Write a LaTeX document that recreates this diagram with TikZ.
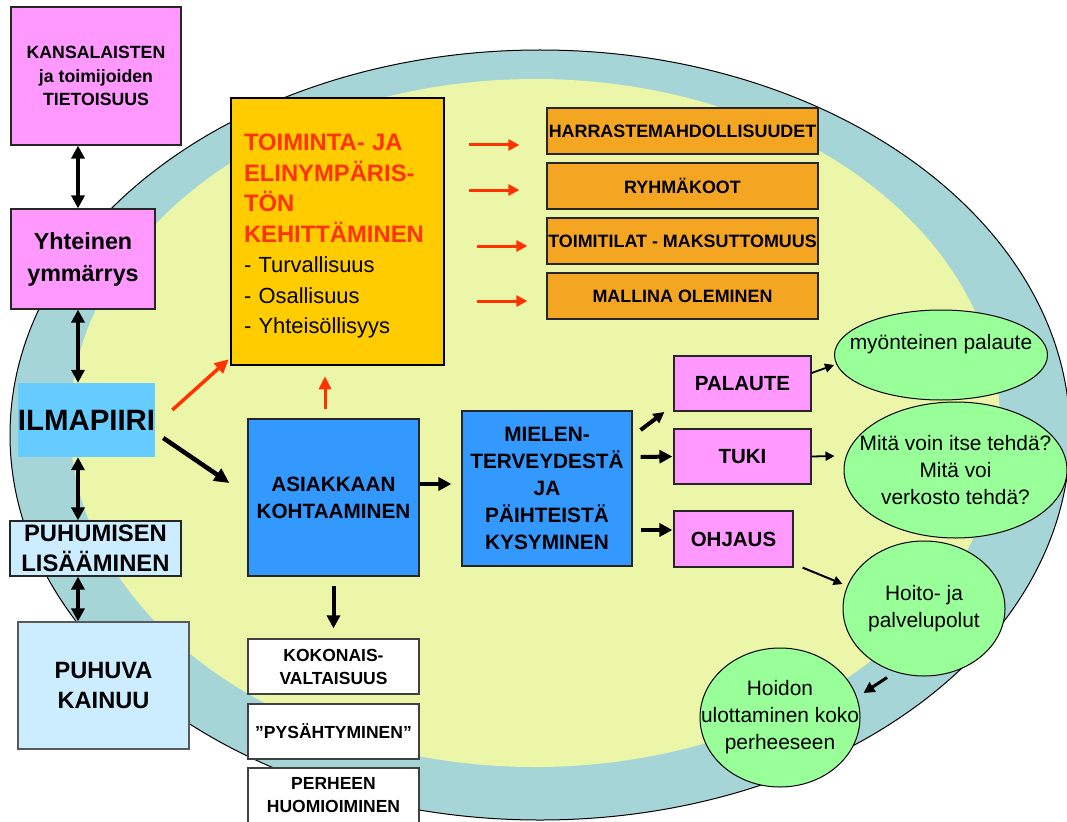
\documentclass[tikz,border=0pt]{standalone}
\usepackage{fontspec}
\setmainfont{Liberation Sans}
\usetikzlibrary{arrows.meta, shapes.geometric}
\definecolor{pinkfill}{HTML}{FF99FF}
\definecolor{skyfill}{HTML}{66CCFF}
\definecolor{paleblue}{HTML}{CCECFF}
\definecolor{goldfill}{HTML}{FFCC00}
\definecolor{redtext}{HTML}{FF3300}
\definecolor{orangefill}{HTML}{F4A623}
\definecolor{bluefill}{HTML}{3399FF}
\definecolor{greenfill}{HTML}{99FF99}
\definecolor{ringfill}{HTML}{A6D5D8}
\definecolor{innerfill}{HTML}{ECF6A9}
\newcommand{\fsz}[2]{\fontsize{#1}{#2}\selectfont}
\newcommand{\redhead}[1]{{\color{redtext}\bfseries\fsz{23.8}{30.5}#1}}
\tikzset{
  box/.style={draw=black!85, line width=1.2pt, inner sep=0pt, align=center},
  tagbox/.style={box, fill=orangefill, minimum width=271pt, minimum height=46pt, font=\bfseries\fsz{17.9}{22}},
  whitebox/.style={box, fill=white, draw=black!75, minimum width=171pt, minimum height=55pt, font=\bfseries\fsz{17.5}{23}},
  bigarrow/.style={line width=4pt, -{Triangle[length=13pt,width=13pt]}},
  duoarrow/.style={line width=4pt, {Triangle[length=13pt,width=13pt]}-{Triangle[length=13pt,width=13pt]}},
  redarrow/.style={draw=redtext, line width=3pt, -{Triangle[length=11pt,width=11pt]}},
  thinarrow/.style={line width=1.8pt, -{Triangle[length=9pt,width=9pt]}},
  bubble/.style={ellipse, draw=black, line width=1pt, fill=greenfill, inner xsep=-25pt, inner ysep=0pt, align=center, font=\fsz{20.9}{27}}
}
\begin{document}
\begin{tikzpicture}[x=1pt,y=-1pt]
  \useasboundingbox (0,0) rectangle (1067,821);
  \clip (0,0) rectangle (1067,821);
  \fill[white] (0,0) rectangle (1067,821);
  % ring and inner field
  \filldraw[fill=ringfill, draw=black, line width=1pt] (540,435) ellipse [x radius=530, y radius=385];
  \fill[innerfill] (535,423) ellipse [x radius=465, y radius=344];

  % left column
  \node[box, fill=pinkfill, minimum width=170pt, minimum height=138pt, font=\bfseries\fsz{17.7}{23.5}] (kans) at (96,76) {KANSALAISTEN\\ja toimijoiden\\TIETOISUUS};
  \node[box, fill=pinkfill, minimum width=144pt, minimum height=100pt, font=\bfseries\fsz{23.3}{32}] (yht) at (83,259) {Yhteinen\\ymmärrys};
  \node[fill=skyfill, inner sep=0pt, minimum width=137pt, minimum height=74pt, font=\bfseries\fsz{29.4}{34}] (ilma) at (86.5,420) {ILMAPIIRI};
  \node[box, fill=paleblue, minimum width=171pt, minimum height=55pt, font=\bfseries\fsz{23.8}{30}] (puhu) at (95.5,548.5) {PUHUMISEN\\LISÄÄMINEN};
  \node[box, fill=paleblue, draw=black!65, minimum width=171pt, minimum height=127pt, font=\bfseries\fsz{23.6}{30}] (kainuu) at (103.5,685.5) {PUHUVA\\KAINUU};

  % environment box and its topics
  \node[draw=black, line width=2.5pt, fill=goldfill, text width=187pt, inner xsep=13pt, inner ysep=0pt, minimum height=267pt, align=left, font=\fsz{21.9}{30.5}] (toim) at (337.5,231.5)
    {\rule{0pt}{26pt}\redhead{TOIMINTA- JA}\\\redhead{ELINYMPÄRIS-}\\\redhead{TÖN}\\\redhead{KEHITTÄMINEN}\\- Turvallisuus\\- Osallisuus\\- Yhteisöllisyys};
  \node[tagbox] (harr) at (682.5,131) {HARRASTEMAHDOLLISUUDET};
  \node[tagbox] (ryhm) at (682.5,186) {RYHMÄKOOT};
  \node[tagbox] (tilat) at (682.5,241) {TOIMITILAT - MAKSUTTOMUUS};
  \node[tagbox] (mall) at (682.5,296) {MALLINA OLEMINEN};

  % meeting the client
  \node[box, fill=bluefill, minimum width=171pt, minimum height=157pt, font=\bfseries\fsz{20.7}{27}] (asiak) at (333.5,497.5) {ASIAKKAAN\\KOHTAAMINEN};
  \node[box, fill=bluefill, minimum width=170pt, minimum height=155pt, font=\bfseries\fsz{20.8}{27}] (miel) at (547,488.5) {MIELEN-\\TERVEYDESTÄ\\JA\\PÄIHTEISTÄ\\KYSYMINEN};
  \node[whitebox] (kok) at (333.5,666.5) {KOKONAIS-\\VALTAISUUS};
  \node[whitebox] (pys) at (333.5,731.5) {”PYSÄHTYMINEN”};
  \node[whitebox] (perh) at (333.5,795.5) {PERHEEN\\HUOMIOIMINEN};

  % responses
  \node[box, fill=pinkfill, minimum width=137pt, minimum height=55pt, font=\bfseries\fsz{20.5}{26}] (pal) at (742.5,383.5) {PALAUTE};
  \node[box, fill=pinkfill, minimum width=137pt, minimum height=55pt, font=\bfseries\fsz{20.5}{26}] (tuki) at (742.5,456.5) {TUKI};
  \node[box, fill=pinkfill, minimum width=119pt, minimum height=56pt, font=\bfseries\fsz{20.5}{26}] (ohj) at (733.5,539) {OHJAUS};
  \node[bubble, minimum width=213pt, minimum height=90pt] (myon) at (941,355) {myönteinen palaute\\\mbox{}};
  \node[bubble, minimum width=223pt, minimum height=136pt] (mita) at (955.5,470) {Mitä voin itse tehdä?\\Mitä voi\\verkosto tehdä?};
  \node[bubble, minimum width=162pt, minimum height=135pt] (hoito) at (924,608.5) {Hoito- ja\\palvelupolut};
  \node[bubble, minimum width=160pt, minimum height=139pt] (hoidon) at (780,717.5) {Hoidon\\ulottaminen koko\\perheeseen};

  % connectors
  \draw[duoarrow] ([xshift=-18pt]kans.south) -- ([xshift=-5pt]yht.north);
  \draw[duoarrow] ([xshift=-5pt]yht.south) -- ([xshift=-8.5pt]ilma.north);
  \draw[duoarrow] ([xshift=-8.5pt]ilma.south) -- ([xshift=-17.5pt]puhu.north);
  \draw[duoarrow] ([xshift=-17.5pt]puhu.south) -- ([xshift=-25.5pt]kainuu.north);

  \draw[redarrow, line width=3.5pt, -{Triangle[length=14pt,width=13pt]}] ([xshift=17pt,yshift=10pt]ilma.east) -- ([xshift=-1pt,yshift=7pt]toim.south west);
  \draw[redarrow, -{Triangle[length=13pt,width=12pt]}] ([xshift=-8.5pt,yshift=9pt]asiak.north) -- ([xshift=-12.5pt,yshift=-10pt]toim.south);
  \draw[redarrow] ([xshift=-77pt,yshift=-14pt]harr.west) -- ([xshift=-27pt,yshift=-14pt]harr.west);
  \draw[redarrow] ([xshift=-77pt,yshift=-4pt]ryhm.west) -- ([xshift=-27pt,yshift=-4pt]ryhm.west);
  \draw[redarrow] ([xshift=-69pt,yshift=-5pt]tilat.west) -- ([xshift=-19pt,yshift=-5pt]tilat.west);
  \draw[redarrow] ([xshift=-69pt,yshift=-5pt]mall.west) -- ([xshift=-19pt,yshift=-5pt]mall.west);

  \draw[bigarrow, line width=4.5pt, -{Triangle[length=15pt,width=14pt]}] ([xshift=8pt,yshift=-18pt]ilma.east) -- ([xshift=-18pt,yshift=14.5pt]asiak.west);
  \draw[bigarrow] ([yshift=13.5pt]asiak.east) -- ([xshift=-10pt,yshift=4.5pt]miel.west);
  \draw[bigarrow] ([yshift=-9pt]asiak.south) -- ([yshift=10pt]kok.north);
  \draw[bigarrow, -{Triangle[length=11pt,width=11pt]}] ([xshift=8pt,yshift=58.5pt]miel.east) -- ([xshift=-9pt,yshift=-28.5pt]pal.west);
  \draw[bigarrow] ([xshift=8pt,yshift=31.5pt]miel.east) -- ([xshift=-1pt]tuki.west);
  \draw[bigarrow] ([xshift=8pt,yshift=-41.5pt]miel.east) -- ([xshift=-1pt,yshift=9pt]ohj.west);

  \draw[thinarrow] ([yshift=10.5pt]pal.east) -- ([yshift=-10pt]myon.west);
  \draw[thinarrow] (tuki.east) -- ([xshift=-9pt,yshift=14pt]mita.west);
  \draw[thinarrow, line width=2pt] ([xshift=9pt]ohj.south east) -- ([yshift=24.5pt]hoito.west);
  \draw[bigarrow, line width=3pt, -{Triangle[length=11pt,width=11pt]}] ([xshift=-37pt,yshift=-1pt]hoito.south) -- ([xshift=3pt,yshift=24.5pt]hoidon.east);
\end{tikzpicture}
\end{document}
